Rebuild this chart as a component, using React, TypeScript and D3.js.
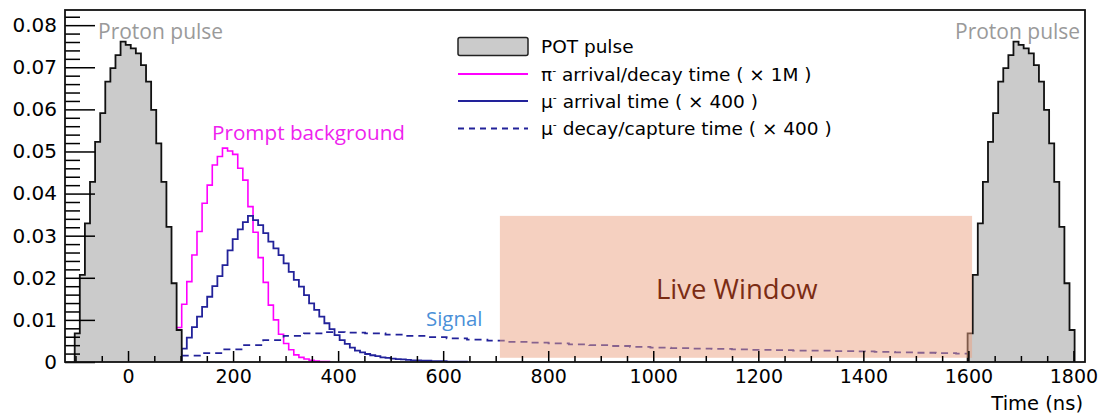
import React, { useEffect, useRef } from "react";
import * as d3 from "d3";

// common binning of the histograms (ns)
const binStart = -101.5;
const binWidth = 9.7;

// POT pulse, one value per bin; the next pulse comes 1700 ns later
const pulseOffsets = [0, 1700];
const potPulse = [
  0.0068, 0.0207, 0.0329, 0.0428, 0.0523, 0.0591, 0.0666, 0.0698, 0.0729, 0.0761,
  0.0753, 0.0745, 0.0733, 0.0705, 0.0666, 0.0599, 0.0519, 0.0428, 0.0321, 0.0187,
  0.0076,
];

// pi- arrival/decay time (x 1M), first bin index 20
const piFirstBin = 20;
const piArrival = [
  0.0082, 0.0137, 0.0191, 0.0254, 0.031, 0.0377, 0.042, 0.0468, 0.0488, 0.0508,
  0.0501, 0.0493, 0.046, 0.0432, 0.0369, 0.0308, 0.0248, 0.0189, 0.0135, 0.01,
  0.0066, 0.0044, 0.0029, 0.0017, 0.0011, 0.0007, 0.0004, 0.0002, 0.0001, 0.0001,
];

// mu- arrival time (x 400), first bin index 21
const muFirstBin = 21;
const muArrival = [
  0.0032, 0.0058, 0.0083, 0.0108, 0.0131, 0.0155, 0.018, 0.0204, 0.023, 0.0265,
  0.0292, 0.0315, 0.0332, 0.0347, 0.0337, 0.0325, 0.0306, 0.0286, 0.027, 0.0254,
  0.0234, 0.0214, 0.0195, 0.0179, 0.0159, 0.0139, 0.0124, 0.0108, 0.0092, 0.0078,
  0.0064, 0.0052, 0.0043, 0.0034, 0.0027, 0.0023, 0.0019, 0.0016, 0.0014, 0.0011,
  0.001, 0.0008, 0.0007, 0.0006, 0.0005, 0.0004, 0.0004, 0.0003, 0.0003, 0.0002,
  0.0002, 0.0002, 0.0001, 0.0001, 0.0001, 0.0001,
];

// mu- decay/capture time (x 400), dashed, read every 4 bins
const muDecayStart = 102.2;
const muDecayWidth = 38.8;
const muDecay = [
  0.0015, 0.0021, 0.003, 0.004, 0.0052, 0.0062, 0.0068, 0.0071, 0.007, 0.0068,
  0.0065, 0.0062, 0.0059, 0.0056, 0.0053, 0.0051, 0.0048, 0.0046, 0.0044, 0.0042,
  0.004, 0.0038, 0.0036, 0.0034, 0.0033, 0.0032, 0.0031, 0.003, 0.0029, 0.0028,
  0.0027, 0.0027, 0.0026, 0.0025, 0.0024, 0.0023, 0.0022, 0.0021, 0.002,
];

// live window (ns) and its height
const liveWindowTime = [708, 1607];
const liveWindowLevel = [0.001, 0.0347];

const xMajorTicks = [0, 200, 400, 600, 800, 1000, 1200, 1400, 1600, 1800];
const yMajorTicks = [0, 0.01, 0.02, 0.03, 0.04, 0.05, 0.06, 0.07, 0.08];

const piColor = "#ff00ff";
const muColor = "#22229a";
const rootFont = "'DejaVu Sans', sans-serif";
const noteFont = "'Open Sans', sans-serif";

function histPoints(start, width, values, closed) {
  const pts = values.map((v, i) => [start + i * width, v]);
  pts.push([start + values.length * width, values[values.length - 1]]);
  if (closed) {
    pts.unshift([start, 0]);
    pts.push([start + values.length * width, 0]);
  }
  return pts;
}

function drawChart(element) {
  d3.select(element).selectAll("*").remove();

  const width = 1101;
  const height = 415;
  const frame = { left: 65, right: 1085, top: 10, bottom: 362 };

  const x = d3.scaleLinear().domain([-120, 1822]).range([frame.left, frame.right]);
  const y = d3.scaleLinear().domain([0, 0.0836]).range([frame.bottom, frame.top]);

  const svg = d3
    .select(element)
    .append("svg")
    .attr("width", width)
    .attr("height", height)
    .style("position", "absolute")
    .style("left", 0)
    .style("top", 0)
    .style("background", "#fff");

  const line = d3
    .line()
    .x((d) => x(d[0]))
    .y((d) => y(d[1]))
    .curve(d3.curveStepAfter);

  // pi- histogram
  svg
    .append("path")
    .datum(histPoints(binStart + piFirstBin * binWidth, binWidth, piArrival, true))
    .attr("fill", "none")
    .attr("stroke", piColor)
    .attr("stroke-width", 1.6)
    .attr("d", line);

  // mu- arrival
  svg
    .append("path")
    .datum(histPoints(binStart + muFirstBin * binWidth, binWidth, muArrival, true))
    .attr("fill", "none")
    .attr("stroke", muColor)
    .attr("stroke-width", 1.8)
    .attr("d", line);

  // mu- decay/capture
  svg
    .append("path")
    .datum(histPoints(muDecayStart, muDecayWidth, muDecay, false))
    .attr("fill", "none")
    .attr("stroke", muColor)
    .attr("stroke-width", 1.8)
    .attr("stroke-dasharray", "7,5")
    .attr("d", line);

  // proton pulses
  pulseOffsets.forEach((off) => {
    svg
      .append("path")
      .datum(histPoints(binStart + off, binWidth, potPulse, true))
      .attr("fill", "#cbcbcb")
      .attr("stroke", "#111")
      .attr("stroke-width", 1.8)
      .attr("d", line);
  });

  // live window overlay
  svg
    .append("rect")
    .attr("x", x(liveWindowTime[0]))
    .attr("width", x(liveWindowTime[1]) - x(liveWindowTime[0]))
    .attr("y", y(liveWindowLevel[1]))
    .attr("height", y(liveWindowLevel[0]) - y(liveWindowLevel[1]))
    .attr("fill", "#eba181")
    .attr("fill-opacity", 0.5);

  // axes, ROOT style: ticks inside the frame
  const yMinor = d3.range(0, 42).filter((i) => i % 5 !== 0).map((i) => i * 0.002);
  const xMinor = d3.range(-100, 1801, 50).filter((v) => v % 200 !== 0);

  svg
    .append("g")
    .attr("transform", "translate(" + frame.left + ",0)")
    .call(d3.axisLeft(y).tickValues(yMinor).tickSize(-15).tickFormat(() => ""))
    .call((g) => g.select(".domain").remove());

  svg
    .append("g")
    .attr("transform", "translate(" + frame.left + ",0)")
    .call(
      d3
        .axisLeft(y)
        .tickValues(yMajorTicks)
        .tickSize(-30)
        .tickPadding(8)
        .tickFormat((d) => (d === 0 ? "0" : d3.format(".2f")(d)))
    )
    .call((g) => g.select(".domain").remove())
    .attr("font-family", rootFont)
    .attr("font-size", 20);

  svg
    .append("g")
    .attr("transform", "translate(0," + frame.bottom + ")")
    .call(d3.axisBottom(x).tickValues(xMinor).tickSize(-6).tickFormat(() => ""))
    .call((g) => g.select(".domain").remove());

  svg
    .append("g")
    .attr("transform", "translate(0," + frame.bottom + ")")
    .call(
      d3
        .axisBottom(x)
        .tickValues(xMajorTicks)
        .tickSize(-11)
        .tickPadding(8)
        .tickFormat(d3.format("d"))
    )
    .call((g) => g.select(".domain").remove())
    .attr("font-family", rootFont)
    .attr("font-size", 19);

  svg.selectAll(".tick line").attr("stroke", "#000").attr("stroke-width", 1.5);
  svg.selectAll(".tick text").attr("fill", "#000");

  // frame
  svg
    .append("rect")
    .attr("x", frame.left)
    .attr("y", frame.top)
    .attr("width", frame.right - frame.left)
    .attr("height", frame.bottom - frame.top)
    .attr("fill", "none")
    .attr("stroke", "#111")
    .attr("stroke-width", 1.8);

  svg
    .append("text")
    .attr("x", 1083)
    .attr("y", 410)
    .attr("text-anchor", "end")
    .attr("font-family", rootFont)
    .attr("font-size", 19.5)
    .text("Time (ns)");

  // legend
  const legend = svg.append("g").attr("font-family", rootFont).attr("font-size", 18.5);
  const lx0 = 458;
  const lx1 = 528;
  const tx = 541;

  legend
    .append("rect")
    .attr("x", lx0)
    .attr("y", 37.5)
    .attr("width", lx1 - lx0)
    .attr("height", 18)
    .attr("rx", 2)
    .attr("fill", "#cbcbcb")
    .attr("stroke", "#222")
    .attr("stroke-width", 1.5);
  legend.append("text").attr("x", tx).attr("y", 53).text("POT pulse");

  const legendRows = [
    { y: 74, dash: null, particle: "π", rest: " arrival/decay time ( × 1M )", color: piColor },
    { y: 101, dash: null, particle: "μ", rest: " arrival time ( × 400 )", color: muColor },
    { y: 128.5, dash: "6,5", particle: "μ", rest: " decay/capture time ( × 400 )", color: muColor },
  ];

  legendRows.forEach((r) => {
    legend
      .append("line")
      .attr("x1", lx0)
      .attr("x2", lx1)
      .attr("y1", r.y)
      .attr("y2", r.y)
      .attr("stroke", r.color)
      .attr("stroke-width", 1.8)
      .attr("stroke-dasharray", r.dash);
    const t = legend.append("text").attr("x", tx).attr("y", r.y + 6.5);
    t.append("tspan").text(r.particle);
    t.append("tspan").attr("dy", -7).attr("font-size", 11).text("-");
    t.append("tspan").attr("dy", 7).text(r.rest);
  });

  // annotations
  const notes = [
    { text: "Proton pulse", x: 98, y: 38.5, size: 21, color: "#9a9a9a" },
    { text: "Proton pulse", x: 955, y: 38.5, size: 21, color: "#9a9a9a" },
    { text: "Prompt background", x: 212, y: 140, size: 20.7, color: "#ee22ee" },
    { text: "Signal", x: 426, y: 326, size: 20.4, color: "#4a90d8" },
    { text: "Live Window", x: 656, y: 299, size: 27.5, color: "#7b2c14" },
  ];

  svg
    .selectAll(".note")
    .data(notes)
    .enter()
    .append("text")
    .attr("class", "note")
    .attr("x", (d) => d.x)
    .attr("y", (d) => d.y)
    .attr("font-family", noteFont)
    .attr("font-size", (d) => d.size)
    .attr("fill", (d) => d.color)
    .text((d) => d.text);
}

export default function App() {
  const ref = useRef(null);

  useEffect(() => {
    drawChart(ref.current);
  }, []);

  return <div ref={ref} />;
}
